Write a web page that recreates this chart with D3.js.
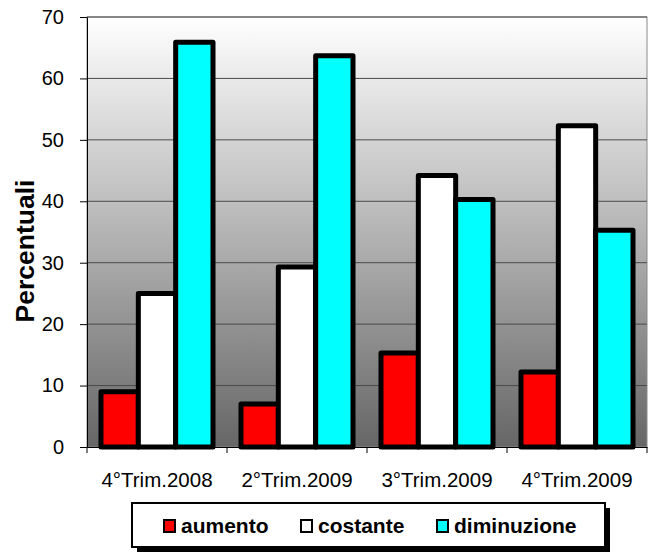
<!DOCTYPE html>
<html>
<head>
<meta charset="utf-8">
<script src="https://cdn.jsdelivr.net/npm/d3@7"></script>
<style>
  body { margin: 0; background: #fff; }
  svg { display: block; font-family: "Liberation Sans", Arial, sans-serif; }
</style>
</head>
<body>
<svg id="chart" width="655" height="559"></svg>
<script>
const categories = ['4°Trim.2008', '2°Trim.2009', '3°Trim.2009', '4°Trim.2009'];
const seriesNames = ['aumento', 'costante', 'diminuzione'];
const aumento = [9, 7, 15.3, 12.2];
const costante = [25, 29.3, 44.2, 52.3];
const diminuzione = [65.9, 63.7, 40.3, 35.3];
const yTicks = [0, 10, 20, 30, 40, 50, 60, 70];
const colors = ['#ff0000', '#ffffff', '#00ffff'];

const seriesValues = [aumento, costante, diminuzione];
const FONT = '"Liberation Sans", Arial, sans-serif';

const svg = d3.select('#chart');
const margin = { top: 17, right: 8, bottom: 112, left: 87 };
const width = 655 - margin.left - margin.right;
const height = 559 - margin.top - margin.bottom;

const defs = svg.append('defs');
const grad = defs.append('linearGradient')
  .attr('id', 'bg').attr('x1', 0).attr('y1', 0).attr('x2', 0).attr('y2', 1);
grad.append('stop').attr('offset', '0%').attr('stop-color', '#ffffff');
grad.append('stop').attr('offset', '50%').attr('stop-color', '#b4b4b4');
grad.append('stop').attr('offset', '100%').attr('stop-color', '#666666');

const g = svg.append('g').attr('transform', `translate(${margin.left},${margin.top})`);

const x0 = d3.scaleBand().domain(categories).range([0, width]).paddingInner(0.2).paddingOuter(0.1);
const x1 = d3.scaleBand().domain(seriesNames).range([0, x0.bandwidth()]);
const y = d3.scaleLinear().domain([0, 70]).range([height, 0]);

// plot background
g.append('rect')
  .attr('width', width).attr('height', height)
  .attr('fill', 'url(#bg)')
  .attr('stroke', '#8a8a8a').attr('stroke-width', 1);

// gridlines
g.append('g').selectAll('line')
  .data(yTicks.filter(d => d > 0))
  .join('line')
  .attr('x1', 0).attr('x2', width)
  .attr('y1', d => y(d)).attr('y2', d => y(d))
  .attr('stroke', '#4a4a4a').attr('stroke-width', 1);

// y axis
const yAxis = g.append('g')
  .call(d3.axisLeft(y).tickValues(yTicks).tickSize(7).tickPadding(16).tickSizeOuter(0));
yAxis.select('.domain').attr('stroke', '#000');
yAxis.selectAll('.tick line').attr('stroke', '#000');
yAxis.selectAll('text').attr('font-size', '20px').attr('fill', '#000')
  .attr('font-family', FONT);

// x axis
const xAxis = g.append('g')
  .attr('transform', `translate(0,${height})`)
  .call(d3.axisBottom(x0).tickSize(0).tickPadding(0));
xAxis.select('.domain').attr('stroke', '#000');
xAxis.selectAll('text')
  .attr('y', 40).attr('dy', 0)
  .attr('font-size', '20.5px').attr('fill', '#000')
  .attr('font-family', FONT);
// category separator ticks
g.append('g').selectAll('line')
  .data(d3.range(categories.length + 1))
  .join('line')
  .attr('x1', i => i * x0.step()).attr('x2', i => i * x0.step())
  .attr('y1', height).attr('y2', height + 6)
  .attr('stroke', '#000');

// bars
const groups = g.append('g').selectAll('g')
  .data(categories)
  .join('g')
  .attr('transform', d => `translate(${x0(d)},0)`);

groups.selectAll('rect')
  .data((c, ci) => seriesNames.map((s, si) => ({ s, si, v: seriesValues[si][ci] })))
  .join('rect')
  .attr('x', d => x1(d.s))
  .attr('y', d => y(d.v))
  .attr('width', x1.bandwidth())
  .attr('height', d => y(0) - y(d.v))
  .attr('fill', d => colors[d.si])
  .attr('stroke', '#000')
  .attr('stroke-width', 5)
  .attr('stroke-linejoin', 'round');

// axis title
svg.append('text')
  .attr('transform', `translate(34,251) rotate(-90)`)
  .attr('text-anchor', 'middle')
  .attr('font-size', '26.5px')
  .attr('font-weight', 'bold')
  .attr('font-family', FONT)
  .text('Percentuali');

// legend
const legend = svg.append('g').attr('transform', 'translate(132,503)');
legend.append('rect')
  .attr('x', 5).attr('y', 5).attr('width', 473).attr('height', 44).attr('fill', '#000');
legend.append('rect')
  .attr('width', 473).attr('height', 44).attr('fill', '#fff')
  .attr('stroke', '#000').attr('stroke-width', 2);

const legendX = [32, 169, 305];
const items = legend.selectAll('g.item')
  .data(seriesNames)
  .join('g')
  .attr('class', 'item')
  .attr('transform', (d, i) => `translate(${legendX[i]},0)`);
items.append('rect')
  .attr('x', 0).attr('y', 17).attr('width', 11).attr('height', 12)
  .attr('fill', (d, i) => colors[i])
  .attr('stroke', '#000').attr('stroke-width', 2);
items.append('text')
  .attr('x', 17).attr('y', 30)
  .attr('font-size', '21px').attr('font-weight', 'bold')
  .attr('font-family', FONT)
  .text(d => d);
</script>
</body>
</html>
